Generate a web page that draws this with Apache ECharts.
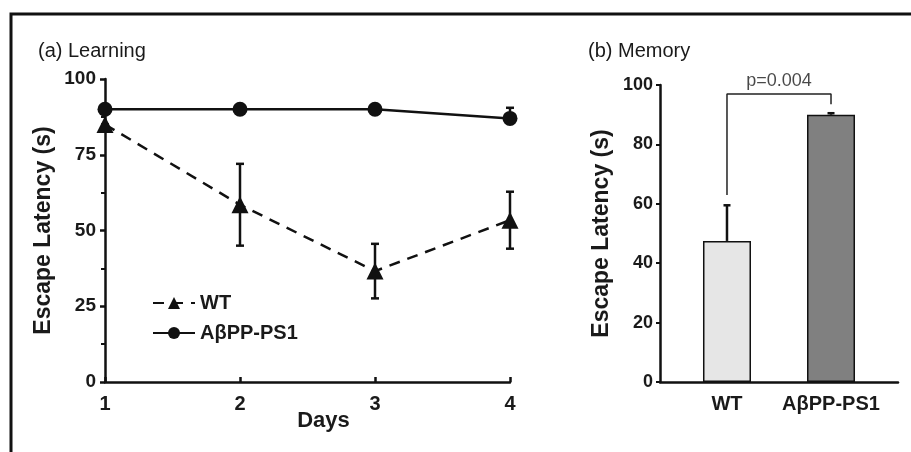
<!DOCTYPE html>
<html>
<head>
<meta charset="utf-8">
<script src="https://cdn.jsdelivr.net/npm/echarts@6/dist/echarts.min.js"></script>
<style>
  html, body { margin: 0; padding: 0; background: #fff; }
  #chart { width: 911px; height: 452px; }
</style>
</head>
<body>
<div id="chart"></div>
<script>
// (a) learning curve
var days = [1, 2, 3, 4];
var wtMean = [85, 58.5, 36.6, 53.4];
var wtErr = [0, 13.5, 9, 9.4];
var adMean = [90, 90, 90, 87];
var adErr = [0, 0, 0, 3.5];

// (b) memory probe
var groups = ['WT', 'AβPP-PS1'];
var memMean = [47.5, 90];
var memErr = [12, 0.5];
var bracketY = [63, 97, 97, 93.5];
var pText = 'p=0.004';

var ink = '#111';
var txt = '#1a1a1a';
var font = 'Liberation Sans, Arial, sans-serif';

// error bars: [x, mean, low, high]
function errRender(capHalf) {
  return function(params, api) {
    var x = api.value(0);
    var lo = api.value(2), hi = api.value(3);
    var top = api.coord([x, hi]);
    var bot = api.coord([x, lo]);
    var st = { stroke: ink, lineWidth: 2.5 };
    var kids = [
      { type: 'line', shape: { x1: top[0], y1: top[1], x2: bot[0], y2: bot[1] }, style: st },
      { type: 'line', shape: { x1: top[0] - capHalf, y1: top[1], x2: top[0] + capHalf, y2: top[1] }, style: st }
    ];
    if (lo < api.value(1)) {
      kids.push({ type: 'line', shape: { x1: bot[0] - capHalf, y1: bot[1], x2: bot[0] + capHalf, y2: bot[1] }, style: st });
    }
    return { type: 'group', children: kids };
  };
}

var wtErrData = days.map(function(d, i) { return [d, wtMean[i], wtMean[i] - wtErr[i], wtMean[i] + wtErr[i]]; });
var adErrData = days.map(function(d, i) { return [d, adMean[i], adMean[i], adMean[i] + adErr[i]]; });
var memErrData = groups.map(function(g, i) { return [i + 1, memMean[i], memMean[i], memMean[i] + memErr[i]]; });

var axisLabelY = { color: txt, fontWeight: 'bold', fontFamily: font };

var option = {
  animation: false,
  backgroundColor: '#fff',
  graphic: [
    { type: 'rect', shape: { x: 11, y: 14, width: 1000, height: 1000 },
      style: { fill: 'none', stroke: ink, lineWidth: 3 }, silent: true }
  ],
  title: [
    { text: '(a) Learning', left: 33, top: 36,
      textStyle: { fontSize: 20, fontWeight: 'normal', color: txt, fontFamily: font } },
    { text: '(b) Memory', left: 583, top: 36,
      textStyle: { fontSize: 20, fontWeight: 'normal', color: txt, fontFamily: font } }
  ],
  legend: {
    orient: 'vertical',
    left: 147,
    top: 288,
    itemWidth: 42,
    itemHeight: 15,
    itemGap: 10,
    data: ['WT', 'AβPP-PS1'],
    textStyle: { fontSize: 20, fontWeight: 'bold', color: txt, fontFamily: font }
  },
  grid: [
    { left: 105, right: 401, top: 79, bottom: 70 },
    { left: 660, right: 13, top: 85, bottom: 70 }
  ],
  xAxis: [
    {
      gridIndex: 0, type: 'value', min: 1, max: 4, interval: 1,
      name: 'Days', nameLocation: 'middle', nameGap: 28, nameMoveOverlap: false,
      nameTextStyle: { fontSize: 22, fontWeight: 'bold', color: txt, fontFamily: font, padding: [0, 0, 0, 32] },
      axisLine: { lineStyle: { color: ink, width: 2.5 } },
      axisTick: { inside: true, length: 5, lineStyle: { color: ink, width: 2.5 } },
      axisLabel: { fontSize: 20, margin: 12, color: txt, fontWeight: 'bold', fontFamily: font },
      splitLine: { show: false }
    },
    {
      gridIndex: 1, type: 'value', min: 0.356, max: 2.644,
      axisLine: { lineStyle: { color: ink, width: 2.5 } },
      axisTick: { show: false },
      axisLabel: {
        customValues: [1, 2], fontSize: 20, margin: 12, color: txt, fontWeight: 'bold', fontFamily: font,
        formatter: function(v) { return groups[Math.round(v) - 1]; }
      },
      splitLine: { show: false }
    }
  ],
  yAxis: [
    {
      gridIndex: 0, type: 'value', min: 0, max: 100, interval: 25,
      name: 'Escape Latency (s)', nameLocation: 'middle', nameGap: 50,
      nameTextStyle: { fontSize: 23, fontWeight: 'bold', color: txt, fontFamily: font },
      axisLine: { show: true, lineStyle: { color: ink, width: 2.5 } },
      axisTick: { length: 5, lineStyle: { color: ink, width: 2.5 } },
      minorTick: { show: true, splitNumber: 2, length: 4, lineStyle: { color: ink, width: 2 } },
      axisLabel: Object.assign({ fontSize: 19, margin: 9 }, axisLabelY),
      splitLine: { show: false }
    },
    {
      gridIndex: 1, type: 'value', min: 0, max: 100, interval: 20,
      name: 'Escape Latency (s)', nameLocation: 'middle', nameGap: 47,
      nameTextStyle: { fontSize: 23, fontWeight: 'bold', color: txt, fontFamily: font },
      axisLine: { show: true, lineStyle: { color: ink, width: 2.5 } },
      axisTick: { length: 4, lineStyle: { color: ink, width: 2 } },
      axisLabel: Object.assign({ fontSize: 18, margin: 7 }, axisLabelY),
      splitLine: { show: false }
    }
  ],
  series: [
    {
      name: 'WT', type: 'line', xAxisIndex: 0, yAxisIndex: 0, z: 3,
      data: days.map(function(d, i) { return [d, wtMean[i]]; }),
      symbol: 'triangle', symbolSize: 17,
      itemStyle: { color: ink },
      lineStyle: { color: ink, width: 2.5, type: [11, 8] }
    },
    {
      name: 'AβPP-PS1', type: 'line', xAxisIndex: 0, yAxisIndex: 0, z: 3,
      data: days.map(function(d, i) { return [d, adMean[i]]; }),
      symbol: 'circle', symbolSize: 15,
      itemStyle: { color: ink },
      lineStyle: { color: ink, width: 2.5 }
    },
    {
      type: 'custom', xAxisIndex: 0, yAxisIndex: 0, z: 2,
      renderItem: errRender(4), data: wtErrData, silent: true
    },
    {
      type: 'custom', xAxisIndex: 0, yAxisIndex: 0, z: 2,
      renderItem: errRender(4), data: adErrData, silent: true
    },
    {
      type: 'bar', xAxisIndex: 1, yAxisIndex: 1, barWidth: 48, z: 3,
      data: groups.map(function(g, i) {
        return {
          value: [i + 1, memMean[i]],
          itemStyle: { color: i === 0 ? '#e6e6e6' : '#808080', borderColor: ink, borderWidth: 1.5 }
        };
      })
    },
    {
      type: 'custom', xAxisIndex: 1, yAxisIndex: 1, z: 2,
      renderItem: errRender(3.5), data: memErrData, silent: true
    },
    {
      type: 'line', xAxisIndex: 1, yAxisIndex: 1, z: 2,
      data: [[1, bracketY[0]], [1, bracketY[1]], [2, bracketY[2]], [2, bracketY[3]]],
      symbol: 'none', lineStyle: { color: '#222', width: 1.5 }, silent: true
    },
    {
      type: 'scatter', xAxisIndex: 1, yAxisIndex: 1,
      data: [[1.5, bracketY[1]]], symbolSize: 0, silent: true,
      label: { show: true, position: 'top', distance: 4, formatter: pText,
        fontSize: 18, color: txt, fontFamily: font }
    }
  ]
};

var chart = echarts.init(document.getElementById('chart'));
chart.setOption(option);
</script>
</body>
</html>
